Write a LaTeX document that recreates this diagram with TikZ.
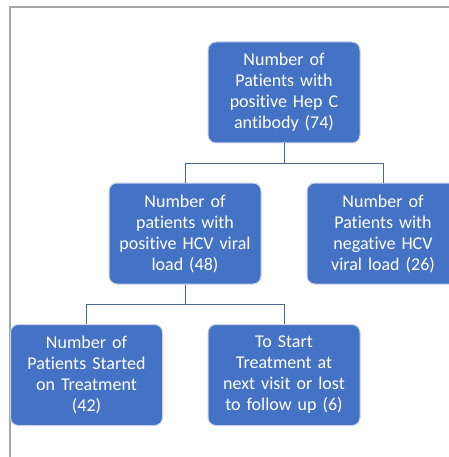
\documentclass[tikz,border=0pt]{standalone}
\usepackage{fontspec}
\setmainfont{Carlito}[Ligatures=NoCommon]
\definecolor{boxblue}{HTML}{4472C4}
\definecolor{boxedge}{HTML}{C9D3E8}
\definecolor{linkblue}{HTML}{4A6798}
\definecolor{framegray}{HTML}{A6A6A6}
\begin{document}
\begin{tikzpicture}[x=1pt,y=-1pt,
  orgbox/.style={draw=boxedge, line width=1pt, fill=boxblue, rounded corners=8pt,
    minimum width=152pt, minimum height=101pt, text width=146pt, align=center,
    inner sep=0pt, text=white, font=\fontsize{18}{21}\selectfont},
  link/.style={draw=linkblue, line width=1pt}]
\useasboundingbox (0,0) rectangle (448,457);
\draw[framegray, line width=2pt] (10,470) -- (10,7.5) -- (460,7.5);
\node[orgbox] (top) at (284,92.5) {Number of\\Patients with\\positive Hep C\\antibody (74)};
\node[orgbox] (pos) at (185,233.5) {Number of\\patients with\\positive HCV viral\\load (48)};
\node[orgbox] (neg) at (383,233.5) {Number of\\Patients with\\negative HCV\\viral load (26)};
\node[orgbox] (start) at (86.5,375) {Number of\\Patients Started\\on Treatment\\(42)};
\node[orgbox] (lost) at (284,375) {To Start\\Treatment at\\next visit or lost\\to follow up (6)};
\coordinate (bus1) at (284,163);
\coordinate (bus2) at (185,304);
\draw[link] (top.south) -- (bus1);
\draw[link] (bus1) -| (pos.north);
\draw[link] (bus1) -| (neg.north);
\draw[link] (pos.south) -- (bus2);
\draw[link] (bus2) -| (start.north);
\draw[link] (bus2) -| (lost.north);
\end{tikzpicture}
\end{document}
